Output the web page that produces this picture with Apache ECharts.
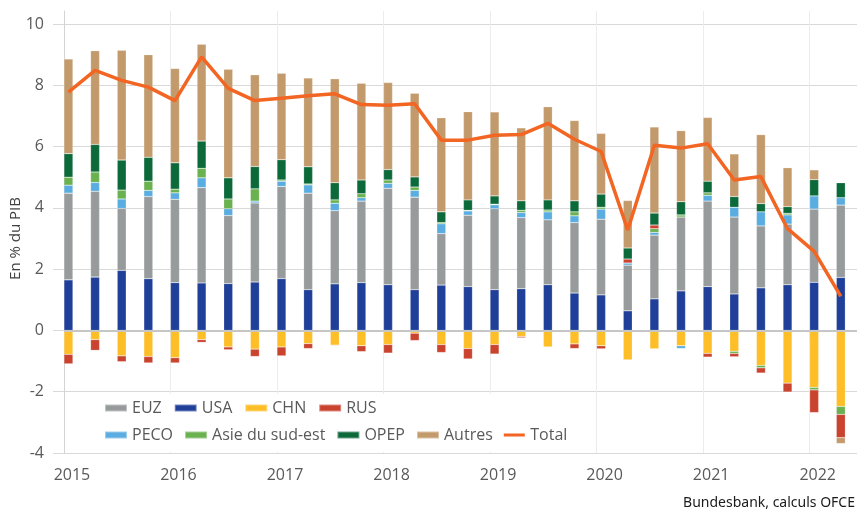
<!DOCTYPE html>
<html>
<head>
<meta charset="utf-8">
<script src="https://cdn.jsdelivr.net/npm/echarts@6/dist/echarts.min.js"></script>
<style>
  html, body { margin: 0; padding: 0; background: #fff; }
  #chart { width: 857px; height: 513px; }
</style>
</head>
<body>
<div id="chart"></div>
<script>
const quarters = [
  '2015T1', '2015T2', '2015T3', '2015T4', '2016T1', '2016T2', '2016T3', '2016T4',
  '2017T1', '2017T2', '2017T3', '2017T4', '2018T1', '2018T2', '2018T3', '2018T4',
  '2019T1', '2019T2', '2019T3', '2019T4', '2020T1', '2020T2', '2020T3', '2020T4',
  '2021T1', '2021T2', '2021T3', '2021T4', '2022T1', '2022T2'
]

const usa = [1.65, 1.74, 1.96, 1.69, 1.56, 1.55, 1.53, 1.58, 1.69, 1.33, 1.52, 1.56, 1.49, 1.33, 1.48,
  1.43, 1.33, 1.36, 1.49, 1.22, 1.16, 0.64, 1.03, 1.29, 1.43, 1.19, 1.39, 1.49, 1.57, 1.73]
const euz = [2.83, 2.80, 2.02, 2.68, 2.72, 3.11, 2.22, 2.58, 3.01, 3.15, 2.39, 2.66, 3.15, 3.02, 1.68,
  2.33, 2.64, 2.32, 2.12, 2.30, 2.47, 1.49, 2.08, 2.41, 2.79, 2.51, 2.02, 1.98, 2.39, 2.36]
const chn = [-0.78, -0.30, -0.83, -0.85, -0.89, -0.30, -0.54, -0.61, -0.54, -0.43, -0.48, -0.50, -0.46, -0.09, -0.46,
  -0.59, -0.46, -0.20, -0.54, -0.44, -0.50, -0.96, -0.60, -0.50, -0.75, -0.68, -1.14, -1.72, -1.86, -2.48]
const peco = [0.26, 0.29, 0.31, 0.20, 0.21, 0.32, 0.22, 0.06, 0.17, 0.27, 0.24, 0.11, 0.16, 0.22, 0.32,
  0.14, 0.13, 0.17, 0.26, 0.22, 0.33, 0.07, 0.09, -0.09, 0.19, 0.32, 0.46, 0.30, 0.43, 0.24]
const asie = [0.26, 0.34, 0.29, 0.30, 0.12, 0.31, 0.32, 0.40, 0.04, 0.03, 0.11, 0.13, 0.11, 0.11, 0.04,
  0.02, 0.02, 0.07, 0.06, 0.13, 0.06, 0, 0.12, 0.07, 0.08, -0.07, -0.08, 0.05, -0.08, -0.26]
const rus = [-0.31, -0.35, -0.19, -0.21, -0.17, -0.09, -0.09, -0.24, -0.29, -0.16, -0.02, -0.19, -0.28, -0.24, -0.26,
  -0.34, -0.31, -0.04, -0.01, -0.15, -0.10, 0.13, 0.12, 0, -0.12, -0.11, -0.17, -0.29, -0.74, -0.76]
const opep = [0.77, 0.90, 0.98, 0.78, 0.86, 0.89, 0.69, 0.73, 0.66, 0.56, 0.56, 0.45, 0.34, 0.33, 0.35,
  0.34, 0.27, 0.31, 0.33, 0.36, 0.43, 0.36, 0.39, 0.43, 0.38, 0.35, 0.27, 0.22, 0.53, 0.49]
const autres = [3.09, 3.06, 3.58, 3.35, 3.08, 3.16, 3.54, 2.99, 2.82, 2.90, 3.39, 3.16, 2.84, 2.73, 3.07,
  2.88, 2.74, 2.38, 3.04, 2.62, 1.98, 1.55, 2.81, 2.32, 2.08, 1.39, 2.25, 1.27, 0.32, -0.19]
const total = [7.78, 8.49, 8.16, 7.94, 7.50, 8.93, 7.90, 7.50, 7.58, 7.66, 7.72, 7.37, 7.35, 7.40, 6.21,
  6.21, 6.37, 6.39, 6.76, 6.24, 5.84, 3.28, 6.04, 5.95, 6.09, 4.91, 5.02, 3.32, 2.58, 1.11]

// the axis runs month by month (like a date axis), quarters sit on their first month
const months = []
for (let y = 2015; y <= 2022; y++) {
  for (let m = 1; m <= 12; m++) {
    if (y === 2022 && m > 6) break
    months.push(y + '-' + String(m).padStart(2, '0'))
  }
}

function monthOf(q) {
  return q.slice(0, 4) + '-' + String((+q.slice(5) - 1) * 3 + 1).padStart(2, '0')
}

function monthly(values) {
  const out = months.map(() => null)
  quarters.forEach((q, i) => { out[months.indexOf(monthOf(q))] = values[i] })
  return out
}

const isJanuary = (index) => months[index] && months[index].endsWith('-01')

const font = 'Open Sans'
const textGray = '#595959'

function barSeries(name, values, color) {
  return {
    name: name,
    type: 'bar',
    stack: 'pib',
    barWidth: 9,
    data: monthly(values),
    itemStyle: { color: color, borderColor: 'rgba(255,255,255,0.4)', borderWidth: 0.5 },
    emphasis: { disabled: true },
    animation: false,
  }
}

const series = [
  barSeries('USA', usa, '#1f3f99'),
  barSeries('EUZ', euz, '#989b9c'),
  barSeries('CHN', chn, '#fdbe27'),
  barSeries('PECO', peco, '#5aade0'),
  barSeries('Asie du sud-est', asie, '#6ab14f'),
  barSeries('RUS', rus, '#c9432f'),
  barSeries('OPEP', opep, '#0c6a3a'),
  barSeries('Autres', autres, '#c39a6b'),
  {
    name: 'Total',
    type: 'line',
    data: monthly(total),
    connectNulls: true,
    symbol: 'none',
    z: 4,
    lineStyle: { color: '#f26522', width: 3.5 },
    itemStyle: { color: '#f26522' },
    animation: false,
    markLine: {
      silent: true,
      symbol: 'none',
      label: { show: false },
      lineStyle: { color: '#c6c6c6', width: 2, type: 'solid' },
      data: [{ yAxis: 0 }],
      animation: false,
    },
  },
]

const legendText = { color: textGray, fontSize: 16, fontFamily: font }
const lineIcon = 'path://M0,0 L0.01,0 L0.01,0.01 Z M0,2.2 L24,2.2 L24,5.8 L0,5.8 Z M0,7.99 L0.01,7.99 L0.01,8 Z'

const option = {
  backgroundColor: '#fff',
  animation: false,
  grid: [
    { left: 64, right: -6, top: 24, bottom: 60, containLabel: false, outerBoundsMode: 'none' },
    { left: 64, right: -6, top: 11, bottom: 60, containLabel: false, outerBoundsMode: 'none' },
  ],
  xAxis: [
    {
      type: 'category',
      gridIndex: 0,
      data: months,
      boundaryGap: true,
      axisLine: { show: true, lineStyle: { color: '#d9d9d9' } },
      axisTick: { show: true, length: 10, interval: isJanuary, lineStyle: { color: '#e6e6e6' } },
      splitLine: { show: false },
      axisLabel: {
        interval: isJanuary,
        color: textGray,
        fontSize: 16,
        fontFamily: font,
        margin: 14,
        padding: [0, 0, 0, 7],
        formatter: (v) => v.slice(0, 4),
      },
    },
    {
      type: 'category',
      gridIndex: 1,
      data: months,
      boundaryGap: true,
      axisLine: { show: false },
      axisTick: { show: false },
      axisLabel: { show: false },
      splitLine: { show: true, interval: isJanuary, lineStyle: { color: '#ececec', width: 1 } },
    },
  ],
  yAxis: [
    {
      type: 'value',
      gridIndex: 0,
      min: -4,
      max: 10,
      interval: 2,
      name: 'En % du PIB',
      nameLocation: 'middle',
      nameGap: 41,
      nameMoveOverlap: false,
      nameTextStyle: { color: '#404040', fontSize: 15, fontFamily: font },
      axisLine: { show: false },
      axisTick: { show: true, length: 11, lineStyle: { color: '#d9d9d9' } },
      axisLabel: { color: textGray, fontSize: 16, fontFamily: font, margin: 20 },
      splitLine: { show: true, lineStyle: { color: '#d9d9d9', width: 1 } },
    },
    {
      type: 'value',
      gridIndex: 1,
      min: 0,
      max: 1,
      axisLine: { show: true, lineStyle: { color: '#d4d4d4' } },
      axisTick: { show: false },
      axisLabel: { show: false },
      splitLine: { show: false },
    },
  ],
  legend: [
    {
      left: 104,
      top: 400,
      padding: 0,
      itemGap: 12,
      itemWidth: 22,
      itemHeight: 7,
      textStyle: legendText,
      selectedMode: false,
      data: ['EUZ', 'USA', 'CHN', 'RUS'].map((n) => ({ name: n, icon: 'rect' })),
    },
    {
      left: 104,
      top: 427,
      padding: 0,
      itemGap: 11,
      itemWidth: 22,
      itemHeight: 7,
      textStyle: legendText,
      selectedMode: false,
      data: [
        { name: 'PECO', icon: 'rect' },
        { name: 'Asie du sud-est', icon: 'rect' },
        { name: 'OPEP', icon: 'rect' },
        { name: 'Autres', icon: 'rect' },
        { name: 'Total', icon: lineIcon },
      ],
    },
  ],
  graphic: [
    {
      type: 'rect',
      z: 1,
      silent: true,
      shape: { x: 98, y: 394, width: 492, height: 58 },
      style: { fill: '#fff' },
    },
    {
      type: 'text',
      z: 5,
      silent: true,
      x: 855,
      y: 503,
      style: {
        text: 'Bundesbank, calculs OFCE',
        fill: '#1a1a1a',
        font: '14px "Noto Sans"',
        textAlign: 'right',
        textVerticalAlign: 'middle',
      },
    },
  ],
  series: series,
}

const chart = echarts.init(document.getElementById('chart'), null, { renderer: 'canvas' })
chart.setOption(option)
</script>
</body>
</html>
